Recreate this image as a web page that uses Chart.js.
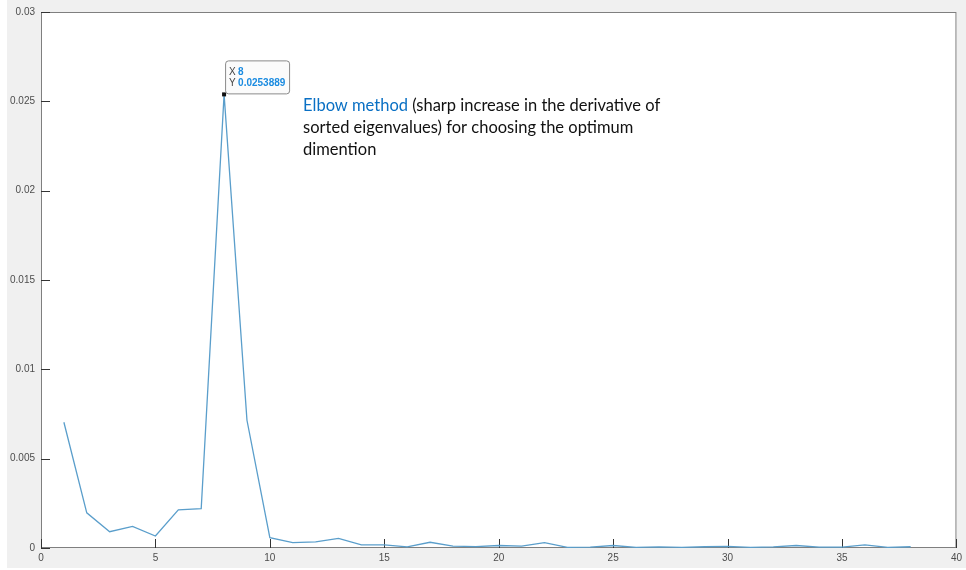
<!DOCTYPE html>
<html>
<head>
<meta charset="utf-8">
<script src="https://cdn.jsdelivr.net/npm/chart.js@4.4.1/dist/chart.umd.min.js"></script>
<style>
  html, body { margin: 0; padding: 0; background: #fff; }
  #wrap { width: 966px; height: 570px; }
</style>
</head>
<body>
<div id="wrap"><canvas id="elbow" width="966" height="570"></canvas></div>
<script>
// derivative of sorted eigenvalues, dimension 1..38
const dims = [1, 2, 3, 4, 5, 6, 7, 8, 9, 10, 11, 12, 13, 14, 15, 16, 17, 18, 19,
  20, 21, 22, 23, 24, 25, 26, 27, 28, 29, 30, 31, 32, 33, 34, 35, 36, 37, 38];
const deriv = [0.00704, 0.00197, 0.00091, 0.00121, 0.00067, 0.00214, 0.0022, 0.0253889,
  0.00715, 0.00058, 0.0003, 0.00034, 0.00054, 0.00017, 0.00017, 0.00006, 0.00032,
  0.00011, 0.00008, 0.00014, 0.0001, 0.0003, 0.00003, 0.00005, 0.00014, 0.00003,
  0.00006, 0.00004, 0.00007, 0.00009, 0.00003, 0.00006, 0.00014, 0.00005, 0.00005,
  0.00017, 0.00004, 0.00007];
const xTicks = [0, 5, 10, 15, 20, 25, 30, 35, 40];
const yTicks = [0, 0.005, 0.01, 0.015, 0.02, 0.025, 0.03];

// datatip and note
const tipIndex = 7;
const noteLines = [
  [['Elbow method', '#0a70c4'], [' (sharp increase in the derivative of', '#111']],
  [['sorted eigenvalues) for choosing the optimum', '#111']],
  [['dimention', '#111']]
];
const noteAt = { x: 11.45, y: 0.02475 };

Chart.defaults.font.family = '"Liberation Sans", Arial, sans-serif';
Chart.defaults.font.size = 10;
Chart.defaults.color = '#4d4d4d';

const background = {
  id: 'background',
  beforeDraw(chart) {
    const ctx = chart.ctx, a = chart.chartArea;
    ctx.save();
    ctx.fillStyle = '#ffffff';
    ctx.fillRect(0, 0, chart.width, chart.height);
    ctx.fillStyle = '#f0f0f0';
    ctx.fillRect(7, 0, chart.width - 7, chart.height - 2);
    ctx.fillStyle = '#ffffff';
    ctx.fillRect(a.left, a.top, a.right - a.left, a.bottom - a.top);
    ctx.restore();
  }
};

// MATLAB-like box with inward ticks
const frame = {
  id: 'frame',
  beforeDatasetsDraw(chart) {
    const ctx = chart.ctx, a = chart.chartArea;
    const xs = chart.scales.x, ys = chart.scales.y;
    ctx.save();
    ctx.strokeStyle = '#7f7f7f';
    ctx.lineWidth = 1;
    ctx.strokeRect(a.left + 0.5, a.top + 0.5, a.right - a.left - 1, a.bottom - a.top - 1);
    ctx.strokeStyle = '#333';
    ctx.beginPath();
    xTicks.forEach(v => {
      const px = Math.round(xs.getPixelForValue(v)) + 0.5;
      ctx.moveTo(px, a.bottom);
      ctx.lineTo(px, a.bottom - 9);
    });
    yTicks.forEach(v => {
      const py = Math.round(ys.getPixelForValue(v)) + 0.5;
      ctx.moveTo(a.left, py);
      ctx.lineTo(a.left + 9, py);
    });
    ctx.stroke();
    ctx.restore();
  }
};

const tip = {
  id: 'tip',
  afterDraw(chart) {
    const ctx = chart.ctx;
    const px = chart.scales.x.getPixelForValue(dims[tipIndex]);
    const py = chart.scales.y.getPixelForValue(deriv[tipIndex]);
    ctx.save();
    ctx.fillStyle = '#111';
    ctx.fillRect(px - 2, py - 2, 4, 4);
    const bx = px + 1, by = py - 34, bw = 64, bh = 33;
    ctx.beginPath();
    ctx.roundRect(bx + 0.5, by + 0.5, bw, bh, 3);
    ctx.fillStyle = '#fbfbfb';
    ctx.fill();
    ctx.strokeStyle = '#8a8a8a';
    ctx.stroke();
    ctx.textBaseline = 'middle';
    const rows = [['X', String(dims[tipIndex])], ['Y', String(deriv[tipIndex])]];
    rows.forEach((r, i) => {
      const ty = by + 12 + i * 11;
      ctx.font = '10px "Liberation Sans", Arial, sans-serif';
      ctx.fillStyle = '#444';
      ctx.fillText(r[0], bx + 4, ty);
      ctx.font = 'bold 10px "Liberation Sans", Arial, sans-serif';
      ctx.fillStyle = '#1a8be0';
      ctx.fillText(r[1], bx + 13, ty);
    });
    ctx.restore();
  }
};

const note = {
  id: 'note',
  afterDraw(chart) {
    const ctx = chart.ctx;
    const x0 = chart.scales.x.getPixelForValue(noteAt.x);
    const y0 = chart.scales.y.getPixelForValue(noteAt.y);
    ctx.save();
    ctx.font = '16.5px Lato, "Open Sans", sans-serif';
    ctx.textBaseline = 'middle';
    noteLines.forEach((line, i) => {
      let x = x0;
      line.forEach(([txt, col]) => {
        ctx.fillStyle = col;
        ctx.fillText(txt, x, y0 + i * 22);
        x += ctx.measureText(txt).width;
      });
    });
    ctx.restore();
  }
};

new Chart(document.getElementById('elbow'), {
  type: 'line',
  data: {
    datasets: [{
      data: dims.map((d, i) => ({ x: d, y: deriv[i] })),
      borderColor: '#5a9ecb',
      borderWidth: 1.3,
      pointRadius: 0,
      tension: 0,
      clip: false
    }]
  },
  options: {
    responsive: false,
    animation: false,
    layout: { padding: { top: 11, right: 5, left: 0, bottom: 0 } },
    plugins: { legend: { display: false }, tooltip: { enabled: false } },
    scales: {
      x: {
        type: 'linear',
        min: 0,
        max: 40,
        grid: { display: false, drawTicks: false },
        border: { display: false },
        ticks: { stepSize: 5, padding: 4, maxRotation: 0 },
        afterBuildTicks: s => { s.ticks = xTicks.map(v => ({ value: v })); },
        afterFit: s => { s.height = 22; }
      },
      y: {
        min: 0,
        max: 0.03,
        grid: { display: false, drawTicks: false },
        border: { display: false },
        ticks: { padding: 6, callback: v => String(+v.toFixed(3)) },
        afterBuildTicks: s => { s.ticks = yTicks.map(v => ({ value: v })); },
        afterFit: s => { s.width = 41; }
      }
    }
  },
  plugins: [background, frame, tip, note]
});
</script>
</body>
</html>
